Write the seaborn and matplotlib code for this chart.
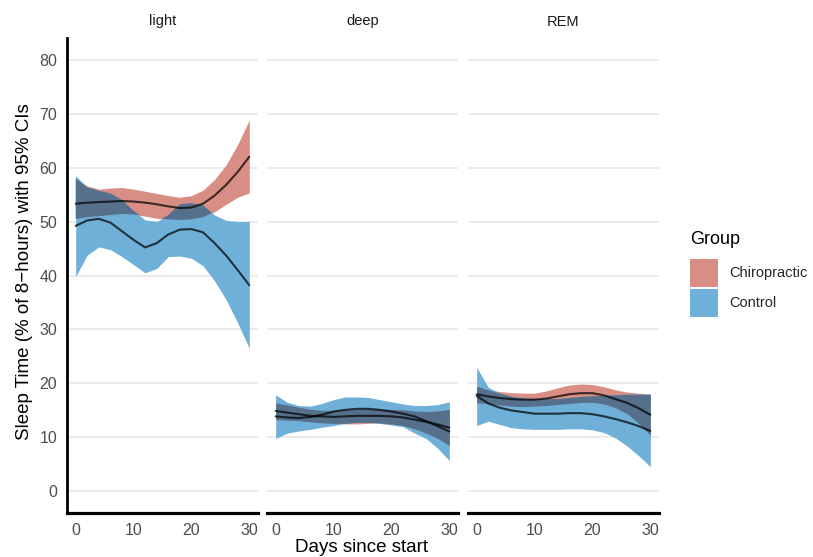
import numpy as np
import pandas as pd
import matplotlib
matplotlib.use("Agg")
import matplotlib.pyplot as plt
import seaborn as sns
from matplotlib.patches import Patch

days = list(range(0, 31, 2))
stages = ["light", "deep", "REM"]
groups = ["Chiropractic", "Control"]

# light sleep (smoothed mean + 95% CI)
light_chiro_mean = [53.3, 53.5, 53.6, 53.7, 53.8, 53.7, 53.5, 53.2, 52.8, 52.5, 52.6, 53.3, 54.8, 56.8, 59.2, 62.0]
light_chiro_hi = [58.0, 56.6, 56.0, 56.2, 56.3, 56.0, 55.6, 55.2, 54.8, 54.5, 54.8, 55.8, 57.8, 60.5, 64.3, 68.8]
light_chiro_lo = [50.5, 50.8, 51.0, 51.2, 51.4, 51.3, 51.0, 50.6, 50.4, 50.3, 50.4, 50.8, 51.8, 53.2, 54.5, 55.3]
light_ctrl_mean = [49.2, 50.2, 50.5, 49.8, 48.2, 46.6, 45.2, 46.0, 47.6, 48.5, 48.6, 48.0, 46.0, 43.7, 41.0, 38.2]
light_ctrl_hi = [58.5, 56.3, 55.7, 55.2, 54.0, 52.0, 50.3, 50.0, 51.2, 53.2, 53.4, 53.0, 51.2, 50.2, 50.0, 50.0]
light_ctrl_lo = [39.8, 43.8, 45.3, 44.8, 43.5, 42.0, 40.5, 41.3, 43.5, 43.6, 43.2, 41.8, 39.0, 35.5, 31.2, 26.5]

# deep sleep
deep_chiro_mean = [14.9, 14.6, 14.3, 14.0, 13.9, 13.8, 13.9, 14.0, 14.0, 14.0, 13.9, 13.7, 13.3, 12.9, 12.4, 11.8]
deep_chiro_hi = [16.4, 16.0, 15.6, 15.2, 15.0, 15.0, 15.1, 15.2, 15.3, 15.3, 15.2, 15.1, 14.9, 14.8, 14.9, 15.2]
deep_chiro_lo = [13.3, 13.2, 13.1, 12.9, 12.7, 12.6, 12.5, 12.5, 12.6, 12.7, 12.5, 12.2, 11.6, 10.8, 9.8, 8.5]
deep_ctrl_mean = [13.9, 13.7, 13.6, 13.8, 14.2, 14.8, 15.1, 15.3, 15.3, 15.1, 14.8, 14.4, 13.9, 13.0, 12.1, 11.1]
deep_ctrl_hi = [17.9, 16.5, 15.9, 15.8, 16.3, 17.0, 17.5, 17.5, 17.4, 17.0, 16.6, 16.2, 15.9, 15.9, 16.1, 16.6]
deep_ctrl_lo = [9.8, 10.8, 11.2, 11.5, 11.9, 12.2, 12.6, 12.8, 12.8, 12.6, 12.3, 12.0, 10.8, 9.8, 8.0, 5.7]

# REM sleep
rem_chiro_mean = [18.0, 17.6, 17.3, 17.1, 17.0, 17.0, 17.2, 17.6, 18.0, 18.2, 18.2, 17.8, 17.1, 16.4, 15.4, 14.2]
rem_chiro_hi = [19.5, 18.8, 18.5, 18.3, 18.2, 18.2, 18.6, 19.2, 19.7, 19.9, 19.8, 19.4, 18.8, 18.4, 18.2, 18.0]
rem_chiro_lo = [16.4, 16.3, 16.0, 15.8, 15.7, 15.8, 15.9, 16.1, 16.3, 16.5, 16.5, 16.2, 15.5, 14.4, 12.6, 10.4]
rem_ctrl_mean = [17.7, 16.3, 15.5, 15.0, 14.7, 14.4, 14.4, 14.4, 14.5, 14.5, 14.3, 13.9, 13.4, 12.8, 12.1, 11.2]
rem_ctrl_hi = [23.0, 19.3, 18.2, 17.6, 17.3, 17.2, 17.2, 17.2, 17.4, 17.6, 17.7, 17.8, 17.9, 18.0, 18.0, 18.0]
rem_ctrl_lo = [12.2, 13.0, 12.4, 11.8, 11.6, 11.5, 11.5, 11.5, 11.6, 11.6, 11.4, 10.9, 9.9, 8.4, 6.6, 4.6]

fill_colours = {"Chiropractic": "#D98E85", "Control": "#6FB0D8"}
overlap_colour = "#566F8B"


def build_frame():
    series = {
        ("light", "Chiropractic"): (light_chiro_mean, light_chiro_lo, light_chiro_hi),
        ("light", "Control"): (light_ctrl_mean, light_ctrl_lo, light_ctrl_hi),
        ("deep", "Chiropractic"): (deep_chiro_mean, deep_chiro_lo, deep_chiro_hi),
        ("deep", "Control"): (deep_ctrl_mean, deep_ctrl_lo, deep_ctrl_hi),
        ("REM", "Chiropractic"): (rem_chiro_mean, rem_chiro_lo, rem_chiro_hi),
        ("REM", "Control"): (rem_ctrl_mean, rem_ctrl_lo, rem_ctrl_hi),
    }
    rows = []
    for (stage, group), (m, lo, hi) in series.items():
        for d, a, b, c in zip(days, m, lo, hi):
            rows.append({"stage": stage, "Group": group, "day": d, "mean": a, "lo": b, "hi": c})
    return pd.DataFrame(rows)


df = build_frame()

sns.set_theme(style="white")
plt.rcParams["font.family"] = ["Liberation Sans", "DejaVu Sans"]

W, H = 813, 557
fig = plt.figure(figsize=(W / 100, H / 100), dpi=100)
lefts = [67, 267, 468]
axes = [fig.add_axes([l / W, 44 / H, 191 / W, 475 / H]) for l in lefts]

for ax, stage in zip(axes, stages):
    sub = df[df["stage"] == stage]
    for g in groups:
        d = sub[sub["Group"] == g]
        ax.fill_between(d["day"], d["lo"], d["hi"], color=fill_colours[g], lw=0, zorder=2)
    #overlap of the two ribbons drawn darker
    a = sub[sub["Group"] == "Chiropractic"].set_index("day")
    b = sub[sub["Group"] == "Control"].set_index("day")
    top = np.minimum(a["hi"], b["hi"])
    bot = np.maximum(a["lo"], b["lo"])
    ax.fill_between(a.index, bot, top, where=(top > bot), interpolate=True,
                    color=overlap_colour, lw=0, zorder=3)
    sns.lineplot(data=sub, x="day", y="mean", hue="Group", estimator=None,
                 palette={"Chiropractic": "black", "Control": "black"},
                 alpha=0.72, lw=1.5, legend=False, ax=ax, zorder=4)

    ax.set_xlim(-1.5, 31.5)
    ax.set_ylim(-4, 84)
    ax.set_xticks([0, 10, 20, 30])
    ax.set_yticks(range(0, 81, 10))
    ax.yaxis.grid(True, color="#EBEBEB", lw=1.4)
    ax.xaxis.grid(False)
    ax.set_axisbelow(True)
    ax.tick_params(length=0, colors="#4D4D4D", labelsize=11.5, pad=7)
    ax.set_xlabel("")
    ax.set_ylabel("")
    ax.set_title(stage, fontsize=10.5, color="#1A1A1A", pad=9)
    for s in ["top", "right", "left"]:
        ax.spines[s].set_visible(False)
    ax.spines["bottom"].set_color("black")
    ax.spines["bottom"].set_linewidth(2.3)
    if stage != "light":
        ax.tick_params(labelleft=False)
    else:
        ax.spines["left"].set_visible(True)
        ax.spines["left"].set_color("black")
        ax.spines["left"].set_linewidth(2.0)

fig.text(25 / W, 1 - 272 / H, "Sleep Time (% of 8\u2212hours) with 95% CIs",
         rotation=90, ha="center", va="center", fontsize=13.5, color="black")
fig.text(361 / W, 1 - 548 / H, "Days since start", ha="center", va="center",
         fontsize=13.5, color="black")

# legend: title as text, keys below it
fig.text(690 / W, 1 - 240 / H, "Group", ha="left", va="center", fontsize=13, color="black")
handles = [Patch(facecolor=fill_colours[g], edgecolor="none") for g in groups]
leg = fig.legend(handles, groups, loc="upper left", bbox_to_anchor=(690 / W, 1 - 259 / H),
                 frameon=False, fontsize=10.5, borderpad=0, borderaxespad=0,
                 handlelength=1.92, handleheight=2.58, labelspacing=0.12,
                 handletextpad=0.75)

fig.savefig("out.png", dpi=100)
